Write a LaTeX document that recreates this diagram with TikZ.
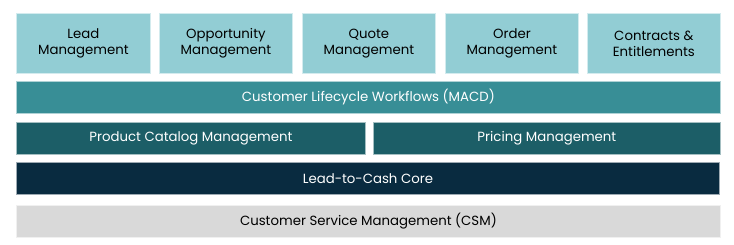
\documentclass[tikz,border=0pt]{standalone}
\usepackage{fontspec}
\setmainfont{Poppins}
\definecolor{cLight}{HTML}{92CDD4}
\definecolor{cMid}{HTML}{388E96}
\definecolor{cDark}{HTML}{1C5E67}
\definecolor{cNavy}{HTML}{092B40}
\definecolor{cGrey}{HTML}{D9D9D9}
\begin{document}
\begin{tikzpicture}[x=1pt,y=-1pt,
  blk/.style={draw=white!60!#1, line width=0.8pt, fill=#1, inner sep=0pt, anchor=north west, align=center, font=\fontsize{13.3}{16}\selectfont},
  ]
\useasboundingbox[fill=white] (0,0) rectangle (734,244);
\node[blk=cLight, minimum width=134pt, minimum height=60pt] (lead) at (16,13) {Lead\\Management};
\node[blk=cLight, minimum width=133pt, minimum height=60pt] (opp) at (159,13) {Opportunity\\Management};
\node[blk=cLight, minimum width=133pt, minimum height=60pt] (quote) at (302,13) {Quote\\Management};
\node[blk=cLight, minimum width=133pt, minimum height=60pt] (order) at (445,13) {Order\\Management};
\node[blk=cLight, minimum width=133pt, minimum height=60pt] (contr) at (587,13) {Contracts \&\\Entitlements};
\node[blk=cMid, text=white, minimum width=704pt, minimum height=32pt] (macd) at (16,81) {Customer Lifecycle Workflows (MACD)};
\node[blk=cDark, text=white, minimum width=349pt, minimum height=32pt] (pcm) at (16,122) {Product Catalog Management};
\node[blk=cDark, text=white, minimum width=347pt, minimum height=32pt] (price) at (373,122) {Pricing Management};
\node[blk=cNavy, text=white, minimum width=703pt, minimum height=32pt] (core) at (16,162) {Lead-to-Cash Core};
\node[blk=cGrey, minimum width=704pt, minimum height=32pt] (csm) at (16,205) {Customer Service Management (CSM)};
\end{tikzpicture}
\end{document}
